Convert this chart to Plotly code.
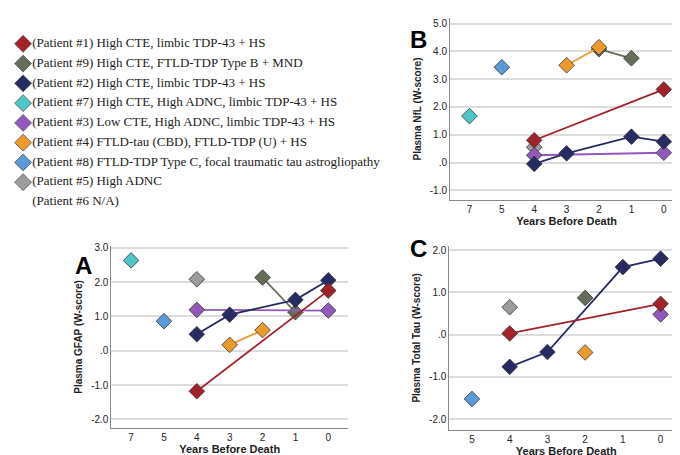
import plotly.graph_objects as go

# patients in legend order
patients = ["#1", "#9", "#2", "#7", "#3", "#4", "#8", "#5"]
legend_labels = [
    "(Patient #1) High CTE, limbic TDP-43 + HS",
    "(Patient #9) High CTE, FTLD-TDP Type B + MND",
    "(Patient #2) High CTE, limbic TDP-43 + HS",
    "(Patient #7) High CTE, High ADNC, limbic TDP-43 + HS",
    "(Patient #3) Low CTE, High ADNC, limbic TDP-43 + HS",
    "(Patient #4) FTLD-tau (CBD), FTLD-TDP (U) + HS",
    "(Patient #8) FTLD-TDP Type C, focal traumatic tau astrogliopathy",
    "(Patient #5) High ADNC",
    "(Patient #6 N/A)",
]
colors = {
    "#1": "#a3222a", "#9": "#646e5a", "#2": "#262c62", "#7": "#4cc6c6",
    "#3": "#9358bb", "#4": "#eb9a2c", "#8": "#5a9ad6", "#5": "#9c9c9c",
}

cats_ab = ["7", "5", "4", "3", "2", "1", "0"]
cats_c = ["5", "4", "3", "2", "1", "0"]

# years before death -> W-score, per patient
nfl = {
    "#1": (["4", "0"], [0.80, 2.63]),
    "#9": (["2", "1"], [4.08, 3.75]),
    "#2": (["4", "3", "1", "0"], [-0.05, 0.33, 0.93, 0.75]),
    "#7": (["7"], [1.67]),
    "#3": (["4", "0"], [0.26, 0.35]),
    "#4": (["3", "2"], [3.50, 4.15]),
    "#8": (["5"], [3.43]),
    "#5": (["4"], [0.55]),
}
gfap = {
    "#1": (["4", "0"], [-1.18, 1.75]),
    "#9": (["2", "1"], [2.13, 1.12]),
    "#2": (["4", "3", "1", "0"], [0.48, 1.05, 1.48, 2.05]),
    "#7": (["7"], [2.63]),
    "#3": (["4", "0"], [1.19, 1.17]),
    "#4": (["3", "2"], [0.17, 0.60]),
    "#8": (["5"], [0.86]),
    "#5": (["4"], [2.08]),
}
tau = {
    "#1": (["4", "0"], [0.03, 0.73]),
    "#9": (["2"], [0.87]),
    "#2": (["4", "3", "1", "0"], [-0.76, -0.41, 1.60, 1.80]),
    "#3": (["0"], [0.48]),
    "#4": (["2"], [-0.42]),
    "#8": (["5"], [-1.52]),
    "#5": (["4"], [0.65]),
}

fig = go.Figure()

# draw order so navy/red lines sit on top
draw_order = ["#8", "#7", "#5", "#9", "#4", "#3", "#2", "#1"]
for data, xa, ya in [(nfl, "x2", "y2"), (gfap, "x", "y"), (tau, "x3", "y3")]:
    for p in draw_order:
        if p not in data:
            continue
        xs, ys = data[p]
        fig.add_trace(go.Scatter(
            x=xs, y=ys, xaxis=xa, yaxis=ya, mode="lines+markers",
            line=dict(color=colors[p], width=1.8),
            marker=dict(symbol="diamond", size=12, color=colors[p],
                        line=dict(color="#333333", width=0.8)),
            showlegend=False, hoverinfo="skip"))

# legend drawn on a hidden axis
leg_colors = [colors[p] for p in patients] + ["rgba(0,0,0,0)"]
fig.add_trace(go.Scatter(
    x=[0.037] * len(legend_labels), y=list(range(len(legend_labels))),
    xaxis="x4", yaxis="y4", mode="markers+text",
    text=legend_labels, textposition="middle right",
    textfont=dict(family="Liberation Serif", size=13, color="#222222"),
    marker=dict(symbol="diamond", size=13, color=leg_colors,
                line=dict(color=["#555555"] * 8 + ["rgba(0,0,0,0)"], width=0.8)),
    showlegend=False, hoverinfo="skip"))

ticks = [-2, -1, 0, 1, 2, 3, 4, 5]
tick_text = ["-2.0", "-1.0", ".0", "1.0", "2.0", "3.0", "4.0", "5.0"]
bold = dict(family="Arial", size=10, color="#222222")


def yax(domain, rng, title, anchor):
    return dict(domain=domain, range=rng, tickvals=ticks, ticktext=tick_text,
                showgrid=True, gridcolor="#dddddd", gridwidth=1.5, zeroline=False,
                showline=True, linecolor="#888888", ticks="", tickfont=bold,
                automargin=False, anchor=anchor,
                title=dict(text="<b>" + title + "</b>", font=bold, standoff=6))


def xax(domain, cats, anchor):
    return dict(domain=domain, type="category", categoryorder="array",
                categoryarray=cats, range=[-0.6, len(cats) - 0.4],
                showgrid=False, showline=True, linecolor="#888888", ticks="",
                tickfont=bold, anchor=anchor, automargin=False,
                title=dict(text="<b>Years Before Death</b>",
                           font=dict(family="Arial", size=11, color="#222222"), standoff=2))


fig.update_layout(
    width=680, height=455, margin=dict(l=0, r=0, t=0, b=0),
    paper_bgcolor="white", plot_bgcolor="white",
    xaxis=xax([0.152, 0.50], cats_ab, "y"),
    yaxis=yax([0.077, 0.477], [-2.25, 3.05], "Plasma GFAP (W-score)", "x"),
    xaxis2=xax([0.65, 0.993], cats_ab, "y2"),
    yaxis2=yax([0.578, 0.978], [-1.35, 5.2], "Plasma NfL (W-score)", "x2"),
    xaxis3=xax([0.649, 0.993], cats_c, "y3"),
    yaxis3=yax([0.073, 0.477], [-2.25, 2.1], "Plasma Total Tau (W-score)", "x3"),
    xaxis4=dict(domain=[0, 0.6], range=[0, 1], visible=False, anchor="y4"),
    yaxis4=dict(domain=[0.552, 0.943], range=[8.5, -0.5], visible=False, anchor="x4"),
)

for letter, x, y in [("A", 0.095, 0.435), ("B", 0.603, 0.965), ("C", 0.603, 0.472)]:
    fig.add_annotation(text="<b>" + letter + "</b>", x=x, y=y, xref="paper", yref="paper",
                       showarrow=False, font=dict(family="Arial", size=24, color="black"))

fig.write_html("out.html")
